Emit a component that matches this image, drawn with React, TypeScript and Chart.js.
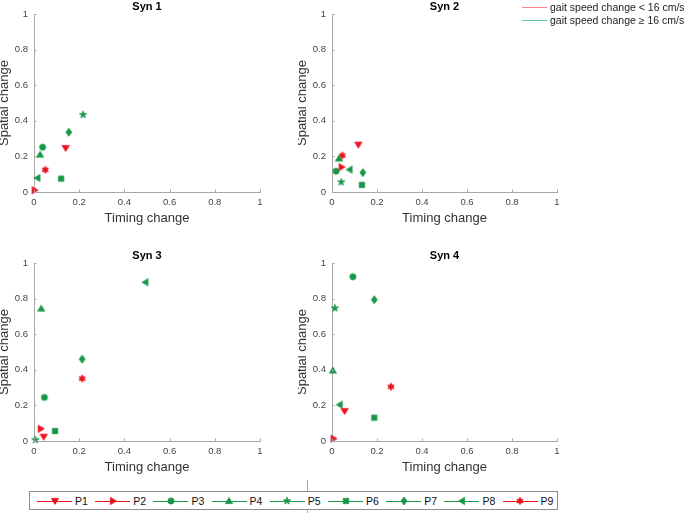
import React, { useEffect, useRef, useMemo } from 'react';
import { Chart, registerables } from 'chart.js';
Chart.register(...registerables);

// ---------- data ----------
const participants = ['P1', 'P2', 'P3', 'P4', 'P5', 'P6', 'P7', 'P8', 'P9'];
const markerShapes = ['v', '>', 'o', '^', 'p', 's', 'd', '<', 'h'];
const slowParticipants = ['P1', 'P2', 'P9'];
const synTitles = ['Syn 1', 'Syn 2', 'Syn 3', 'Syn 4'];
const tickValues = [0, 0.2, 0.4, 0.6, 0.8, 1];
const speedLegendLabels = ['gait speed change < 16 cm/s', 'gait speed change \u2265 16 cm/s'];

const syn1Timing = [0.14, 0.003, 0.038, 0.027, 0.217, 0.12, 0.154, 0.015, 0.05];
const syn1Spatial = [0.247, 0.01, 0.252, 0.21, 0.434, 0.075, 0.336, 0.079, 0.125];
const syn2Timing = [0.117, 0.043, 0.018, 0.031, 0.041, 0.133, 0.137, 0.078, 0.046];
const syn2Spatial = [0.266, 0.14, 0.117, 0.188, 0.055, 0.04, 0.109, 0.126, 0.205];
const syn3Timing = [0.043, 0.03, 0.046, 0.032, 0.006, 0.093, 0.213, 0.493, 0.213];
const syn3Spatial = [0.024, 0.069, 0.245, 0.744, 0.006, 0.056, 0.46, 0.892, 0.351];
const syn4Timing = [0.056, 0.007, 0.093, 0.004, 0.013, 0.188, 0.188, 0.034, 0.262];
const syn4Spatial = [0.168, 0.013, 0.923, 0.396, 0.746, 0.131, 0.794, 0.204, 0.305];

const timingSets = [syn1Timing, syn2Timing, syn3Timing, syn4Timing];
const spatialSets = [syn1Spatial, syn2Spatial, syn3Spatial, syn4Spatial];

// ---------- styles ----------
const RED = 'rgb(234,18,32)';
const GREEN = 'rgb(24,150,72)';
const AXIS = '#a8a8a8';
const TICK = '#444444';
const LABEL = '#333333';
const FONT = '"Liberation Sans", Arial, Helvetica, sans-serif';

const colorFor = (p: string) => (slowParticipants.includes(p) ? RED : GREEN);

function makeMarker(shape: string, color: string): HTMLCanvasElement {
  const c = document.createElement('canvas');
  c.width = 12;
  c.height = 12;
  const ctx = c.getContext('2d')!;
  ctx.fillStyle = color;
  ctx.strokeStyle = color;
  ctx.lineWidth = 0.8;
  const cx = 6, cy = 6;
  ctx.beginPath();
  const star = (n: number, ro: number, ri: number) => {
    for (let i = 0; i < n * 2; i++) {
      const r = i % 2 === 0 ? ro : ri;
      const a = -Math.PI / 2 + (i * Math.PI) / n;
      const px = cx + r * Math.cos(a), py = cy + r * Math.sin(a);
      if (i === 0) ctx.moveTo(px, py); else ctx.lineTo(px, py);
    }
  };
  switch (shape) {
    case 'v': ctx.moveTo(cx - 3.6, cy - 2.6); ctx.lineTo(cx + 3.6, cy - 2.6); ctx.lineTo(cx, cy + 3.4); break;
    case '^': ctx.moveTo(cx - 3.6, cy + 2.6); ctx.lineTo(cx + 3.6, cy + 2.6); ctx.lineTo(cx, cy - 3.4); break;
    case '>': ctx.moveTo(cx - 2.6, cy - 3.6); ctx.lineTo(cx - 2.6, cy + 3.6); ctx.lineTo(cx + 3.4, cy); break;
    case '<': ctx.moveTo(cx + 2.6, cy - 3.6); ctx.lineTo(cx + 2.6, cy + 3.6); ctx.lineTo(cx - 3.4, cy); break;
    case 'o': ctx.arc(cx, cy, 3.1, 0, Math.PI * 2); break;
    case 's': ctx.rect(cx - 2.7, cy - 2.7, 5.4, 5.4); break;
    case 'd': ctx.moveTo(cx, cy - 4); ctx.lineTo(cx + 3, cy); ctx.lineTo(cx, cy + 4); ctx.lineTo(cx - 3, cy); break;
    case 'p': star(5, 3.8, 1.5); break;
    case 'h': star(6, 3.6, 2.0); break;
  }
  ctx.closePath();
  ctx.fill();
  ctx.stroke();
  return c;
}

const inwardTicks = {
  id: 'inwardTicks',
  afterDatasetsDraw(chart: any) {
    const { ctx, chartArea, scales } = chart;
    const x = scales.x, y = scales.y;
    ctx.save();
    ctx.strokeStyle = AXIS;
    ctx.lineWidth = 1;
    x.ticks.forEach((t: any) => {
      const px = Math.round(x.getPixelForValue(t.value)) + 0.5;
      ctx.beginPath();
      ctx.moveTo(px, chartArea.bottom);
      ctx.lineTo(px, chartArea.bottom - 2.5);
      ctx.stroke();
    });
    y.ticks.forEach((t: any) => {
      const py = Math.round(y.getPixelForValue(t.value)) + 0.5;
      ctx.beginPath();
      ctx.moveTo(chartArea.left, py);
      ctx.lineTo(chartArea.left + 2.5, py);
      ctx.stroke();
    });
    ctx.restore();
  },
};

function SynChart({ index, left, top, width, height }: { index: number; left: number; top: number; width: number; height: number }) {
  const ref = useRef<HTMLCanvasElement | null>(null);
  useEffect(() => {
    const canvas = ref.current!;
    const xs = timingSets[index];
    const ys = spatialSets[index];
    const markers = participants.map((p, i) => makeMarker(markerShapes[i], colorFor(p)));
    const chart = new Chart(canvas, {
      type: 'scatter',
      data: {
        datasets: participants.map((p, i) => ({
          label: p,
          data: [{ x: xs[i], y: ys[i] }],
          pointStyle: markers[i] as any,
          pointRadius: 4,
          backgroundColor: colorFor(p),
          borderColor: colorFor(p),
          clip: false as any,
        })),
      },
      options: {
        responsive: false,
        animation: false,
        devicePixelRatio: 1,
        layout: { padding: { left: 0, top: 0, right: 20, bottom: 0 } },
        plugins: {
          legend: { display: false },
          tooltip: { enabled: false },
          title: {
            display: true,
            text: synTitles[index],
            fullSize: false,
            color: '#000',
            font: { family: FONT, size: 11, weight: 'bold', lineHeight: 1.04 },
            padding: { top: 1, bottom: 1.6 },
          },
        },
        scales: {
          x: {
            type: 'linear',
            min: 0,
            max: 1,
            afterBuildTicks: (s: any) => { s.ticks = tickValues.map((v) => ({ value: v })); },
            afterFit: (s: any) => { s.height = 34; },
            grid: { display: false, drawTicks: false },
            border: { display: true, color: AXIS, width: 1 },
            ticks: {
              padding: 5,
              color: TICK,
              maxRotation: 0,
              autoSkip: false,
              font: { family: FONT, size: 9.5 },
              callback: (v: any) => String(Math.round(Number(v) * 10) / 10),
            },
            title: {
              display: true,
              text: 'Timing change',
              color: LABEL,
              font: { family: FONT, size: 13, lineHeight: 1.2 },
              padding: 0,
            },
          },
          y: {
            type: 'linear',
            min: 0,
            max: 1,
            afterBuildTicks: (s: any) => { s.ticks = tickValues.map((v) => ({ value: v })); },
            afterFit: (s: any) => { s.width = 34; },
            grid: { display: false, drawTicks: false },
            border: { display: true, color: AXIS, width: 1 },
            ticks: {
              padding: 6,
              color: TICK,
              autoSkip: false,
              font: { family: FONT, size: 9.5 },
              callback: (v: any) => String(Math.round(Number(v) * 10) / 10),
            },
            title: {
              display: true,
              text: 'Spatial change',
              color: LABEL,
              font: { family: FONT, size: 13, lineHeight: 0.74 },
              padding: 0,
            },
          },
        },
      } as any,
      plugins: [inwardTicks],
    });
    return () => chart.destroy();
  }, [index]);
  return (
    <canvas
      ref={ref}
      width={width}
      height={height}
      style={{ position: 'absolute', left, top, width, height }}
    />
  );
}

const panelPositions = [
  { left: 0, top: 0, width: 280, height: 226 },
  { left: 298, top: 0, width: 279, height: 226 },
  { left: 0, top: 249, width: 280, height: 226 },
  { left: 298, top: 249, width: 279, height: 226 },
];

export default function App() {
  const markerUrls = useMemo(
    () => participants.map((p, i) => makeMarker(markerShapes[i], colorFor(p)).toDataURL()),
    []
  );
  const speedColors = ['#ff8585', '#5cc49e'];
  return (
    <div style={{ position: 'absolute', left: 0, top: 0, width: 685, height: 515, background: '#fff', overflow: 'hidden', fontFamily: FONT }}>
      {panelPositions.map((p, i) => (
        <SynChart key={i} index={i} {...p} />
      ))}

      {/* gait speed legend */}
      {speedLegendLabels.map((label, i) => (
        <React.Fragment key={label}>
          <div style={{ position: 'absolute', left: 522, top: 6.5 + i * 13.5, width: 25, height: 0, borderTop: `1px solid ${speedColors[i]}` }} />
          <div style={{ position: 'absolute', left: 550, top: 0.5 + i * 13.5, height: 12, lineHeight: '12px', fontSize: 10.5, color: '#222', whiteSpace: 'nowrap' }}>
            {label}
          </div>
        </React.Fragment>
      ))}

      {/* stray axis line */}
      <div style={{ position: 'absolute', left: 307, top: 480, width: 0, height: 33, borderLeft: '1px solid #aaa' }} />

      {/* participant legend */}
      <div style={{ position: 'absolute', left: 29, top: 491, width: 527, height: 17, border: '1px solid #8c8c8c', background: '#fff' }} />
      {participants.map((p, i) => {
        const tx = 75 + i * 58.2;
        const col = colorFor(p);
        return (
          <React.Fragment key={p}>
            <div style={{ position: 'absolute', left: tx - 38, top: 500.5, width: 35, height: 0, borderTop: `1px solid ${col}` }} />
            <img src={markerUrls[i]} style={{ position: 'absolute', left: tx - 20.5 - 6, top: 501 - 6, width: 12, height: 12 }} />
            <div style={{ position: 'absolute', left: tx, top: 494, height: 14, lineHeight: '14px', fontSize: 10.5, color: '#111' }}>{p}</div>
          </React.Fragment>
        );
      })}
    </div>
  );
}
